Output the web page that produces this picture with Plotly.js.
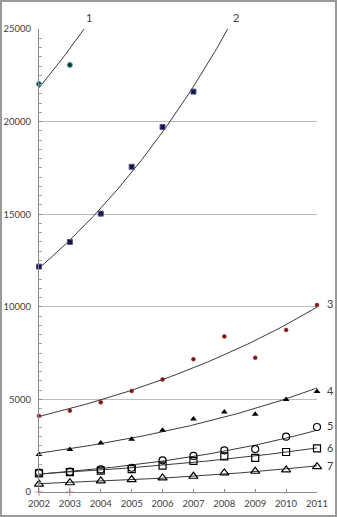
<!DOCTYPE html>
<html><head><meta charset="utf-8">
<script src="https://cdn.plot.ly/plotly-3.0.1.min.js"></script>
<style>
html,body{margin:0;padding:0;background:#fff;}
#chart{width:337px;height:517px;}
#frame{position:absolute;left:0;top:0;width:337px;height:517px;box-sizing:border-box;border:2px solid #9a9a9a;pointer-events:none;}
</style>
</head><body><div id="chart"></div><div id="frame"></div>
<script>
const years = [2002, 2003, 2004, 2005, 2006, 2007, 2008, 2009, 2010, 2011];
const s1 = [22030, 23060];
const s2 = [12170, 13500, 15030, 17560, 19710, 21620];
const s3 = [4100, 4390, 4840, 5450, 6080, 7170, 8400, 7250, 8750, 10100];
const s4 = [2020, 2290, 2650, 2850, 3330, 3940, 4320, 4200, 5000, 5420];
const s5 = [1050, 1100, 1220, 1310, 1710, 1950, 2250, 2320, 2990, 3510];
const s6 = [1010, 1070, 1150, 1240, 1420, 1680, 1920, 1840, 2160, 2360];
const s7 = [430, 500, 600, 670, 760, 850, 1030, 1120, 1190, 1370];
const s8 = [0, 0];
const trend1 = [21820, 23940]; // series 1 trend line read at 2002 and 2003
const seriesLabels = ['1', '2', '3', '4', '5', '6', '7'];
const yTicks = [0, 5000, 10000, 15000, 20000, 25000];

function expFit(ys) {
  const n = ys.length;
  const xs = ys.map((_, i) => i);
  const ls = ys.map(v => Math.log(v));
  const mx = xs.reduce((a, b) => a + b, 0) / n;
  const ml = ls.reduce((a, b) => a + b, 0) / n;
  let sxy = 0, sxx = 0;
  for (let i = 0; i < n; i++) { sxy += (xs[i] - mx) * (ls[i] - ml); sxx += (xs[i] - mx) ** 2; }
  const b = sxy / sxx;
  return { a: ml - b * mx, b: b };
}
function trendTrace(fit) {
  const xs = [], ys = [];
  for (let t = 0; t <= 9.0001; t += 0.05) { xs.push(years[0] + t); ys.push(Math.exp(fit.a + fit.b * t)); }
  return { x: xs, y: ys, mode: 'lines', line: { color: '#3a3a3a', width: 1 }, hoverinfo: 'skip', showlegend: false };
}
const fit1 = { a: Math.log(trend1[0]), b: Math.log(trend1[1] / trend1[0]) };
const fits = [fit1, expFit(s2), expFit(s3), expFit(s4), expFit(s5), expFit(s6), expFit(s7)];

const traces = [];
fits.forEach(f => traces.push(trendTrace(f)));
function pts(vals, marker) {
  return { x: years.slice(0, vals.length), y: vals, mode: 'markers', marker: marker, cliponaxis: false, showlegend: false };
}
traces.push(pts(s1, { symbol: 'circle', size: 5, color: '#0b2f33', line: { color: '#3aa6a6', width: 1 } }));
traces.push(pts(s2, { symbol: 'square', size: 5, color: '#161636', line: { color: '#50509a', width: 1 } }));
traces.push(pts(s3, { symbol: 'circle', size: 4, color: '#7a1616', line: { color: '#a03030', width: 0.5 } }));
traces.push(pts(s4, { symbol: 'triangle-up', size: 6, color: '#000' }));
traces.push(pts(s5, { symbol: 'circle-open', size: 7, color: '#000', line: { width: 1.2 } }));
traces.push(pts(s6, { symbol: 'square-open', size: 7, color: '#000', line: { width: 1.2 } }));
traces.push(pts(s7, { symbol: 'triangle-up-open', size: 8, color: '#000', line: { width: 1.2 } }));
traces.push({ x: years.slice(0, s8.length), y: s8, mode: 'markers', cliponaxis: false, showlegend: false,
  marker: { symbol: 'cross-thin-open', size: 6, color: '#e08a8a', line: { color: '#e08a8a', width: 1 } } });

const lastVals = [null, null, s3[9], s4[9], s5[9], s6[9], s7[9]];
const annotations = [];
[0, 1].forEach(i => {
  const f = fits[i];
  const t = (Math.log(25000) - f.a) / f.b;
  annotations.push({ x: years[0] + t, y: 25000, xref: 'x', yref: 'y', text: seriesLabels[i], showarrow: false,
    xshift: i === 0 ? 5 : 8, yshift: 12, font: { family: 'Lato, sans-serif', size: 11, color: '#404040' } });
});
for (let i = 2; i < 7; i++) {
  annotations.push({ x: 2011, y: lastVals[i], xref: 'x', yref: 'y', text: seriesLabels[i], showarrow: false,
    xshift: 13, yshift: 1, font: { family: 'Lato, sans-serif', size: 11, color: '#404040' } });
}

const layout = {
  width: 337, height: 517,
  margin: { l: 39, r: 20, t: 29, b: 25 },
  paper_bgcolor: '#fff', plot_bgcolor: '#fff',
  font: { family: 'Lato, sans-serif', size: 10, color: '#404040' },
  showlegend: false,
  xaxis: { range: [2002, 2011], tickvals: years, ticktext: years.map(String), showgrid: false, zeroline: false,
    showline: true, linecolor: '#8a8a8a', linewidth: 1, ticks: 'inside', ticklen: 3, tickcolor: '#8a8a8a',
    ticklabelstandoff: 3, tickfont: { size: 9.5 } },
  yaxis: { range: [0, 25000], tickvals: yTicks, ticktext: yTicks.map(String), showgrid: true, gridcolor: '#bcbcbc',
    zeroline: false, showline: true, linecolor: '#8a8a8a', linewidth: 1, ticks: 'inside', ticklen: 3,
    tickcolor: '#8a8a8a', ticklabelstandoff: 5, tickfont: { size: 9.5 },
    minor: { dtick: 500, ticks: 'inside', ticklen: 3, tickcolor: '#a8a8a8', showgrid: false } },
  annotations: annotations
};
Plotly.newPlot('chart', traces, layout, { staticPlot: true, displayModeBar: false });
</script>
</body></html>
